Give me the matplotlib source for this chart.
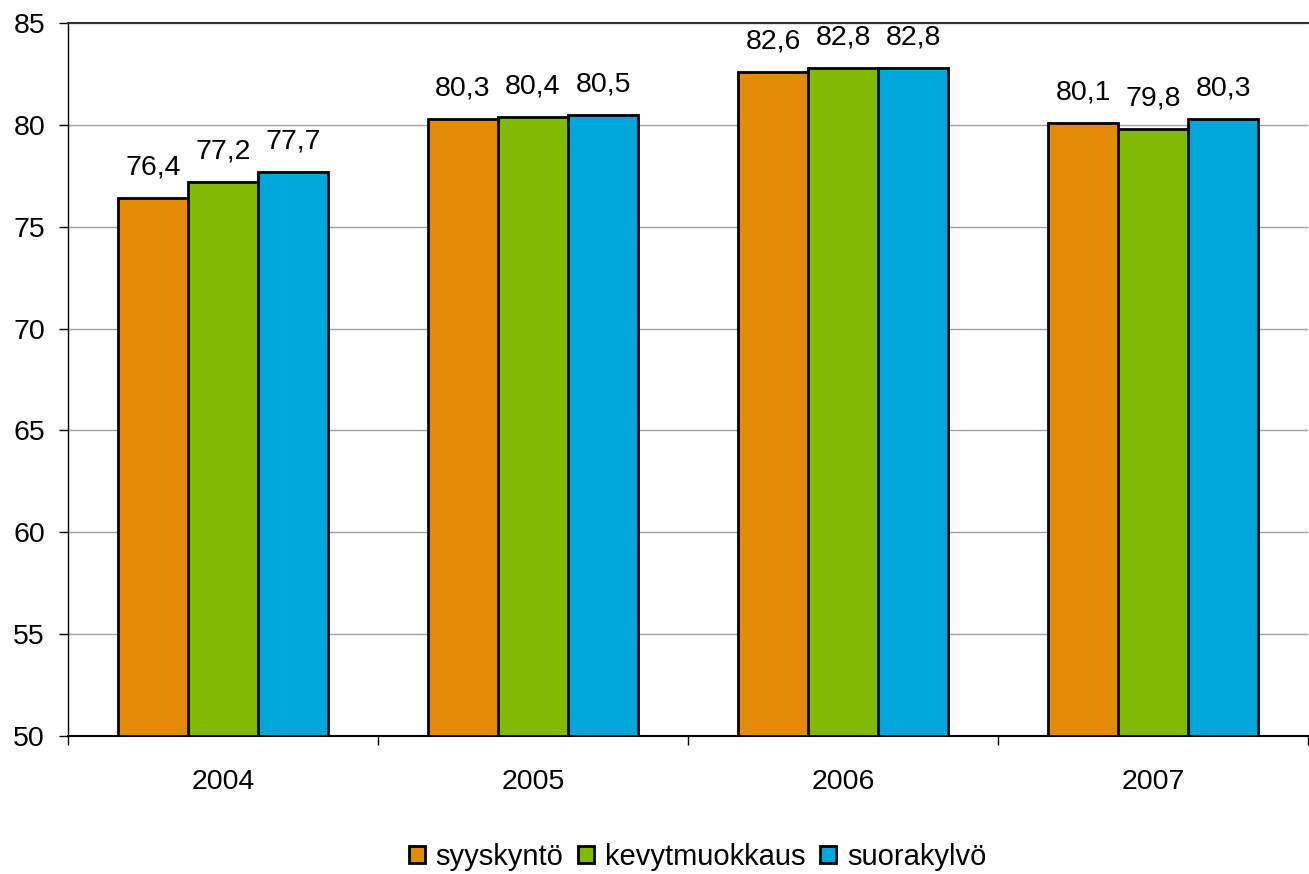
import matplotlib
matplotlib.use("Agg")
import matplotlib.pyplot as plt
import numpy as np

years = ["2004", "2005", "2006", "2007"]
series_names = ["syyskyntö", "kevytmuokkaus", "suorakylvö"]
syyskynto = [76.4, 80.3, 82.6, 80.1]
kevytmuokkaus = [77.2, 80.4, 82.8, 79.8]
suorakylvo = [77.7, 80.5, 82.8, 80.3]
colors = ["#E38B07", "#7FBA00", "#00A5DA"]

plt.rcParams['font.family'] = ['Liberation Sans', 'DejaVu Sans']

fig = plt.figure(figsize=(13.09, 8.74), dpi=100)
ax = fig.add_axes([68/1309, 1-736/874, (1308-68)/1309, (736-23)/874])

x = np.arange(len(years))
w = 0.226
all_series = [syyskynto, kevytmuokkaus, suorakylvo]
for i, (vals, name, c) in enumerate(zip(all_series, series_names, colors)):
    ax.bar(x + (i-1)*w, np.array(vals) - 50, bottom=50, width=w, color=c,
           edgecolor='black', linewidth=2, label=name, zorder=3)
    for xi, v in zip(x + (i-1)*w, vals):
        ax.annotate(f"{v:.1f}".replace('.', ','), (xi, v), xytext=(0, 17),
                    textcoords='offset points', ha='center', va='baseline', fontsize=20.5)

ax.set_xlim(-0.5, 3.5)
ax.set_ylim(50, 85)
ax.set_yticks(range(50, 86, 5))
ax.yaxis.grid(True, color='#a0a0a0', linewidth=1.0, zorder=0)
ax.set_axisbelow(True)
ax.tick_params(axis='y', labelsize=20.5, length=6.5, width=1, direction='out', pad=10, colors='black')
ax.set_xticks(x)
ax.set_xticklabels(years)
ax.tick_params(axis='x', which='major', length=0, labelsize=20.5, pad=24)
ax.set_xticks(np.arange(-0.5, 3.6, 1), minor=True)
ax.tick_params(axis='x', which='minor', length=6.5, width=1, direction='out')
ax.spines['right'].set_visible(False)
ax.spines['top'].set_color('#303030')
ax.spines['top'].set_linewidth(1.5)
ax.spines['left'].set_linewidth(1)
ax.spines['bottom'].set_linewidth(1.5)

leg = fig.legend(loc='center', bbox_to_anchor=(0.533, 1-857/874), ncol=3, frameon=False,
                 fontsize=21, handlelength=0.55, handleheight=0.55, handletextpad=0.38,
                 columnspacing=0.5)
for h in leg.legend_handles:
    h.set_linewidth(2)
fig.savefig("out.png", dpi=100)
